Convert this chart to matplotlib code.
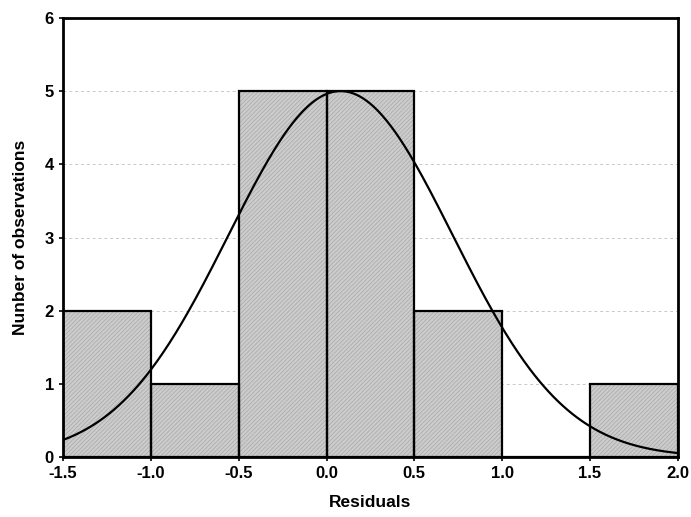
import numpy as np
import matplotlib
matplotlib.use("Agg")
import matplotlib.pyplot as plt

plt.rcParams['font.family'] = ['Liberation Sans', 'DejaVu Sans']
plt.rcParams['hatch.linewidth'] = 0.5

bin_edges = [-1.5, -1.0, -0.5, 0.0, 0.5, 1.0, 1.5, 2.0]
counts = [2, 1, 5, 5, 2, 0, 1]
fit_mean = 0.08
fit_sd = 0.638
x_ticks = [-1.5, -1.0, -0.5, 0.0, 0.5, 1.0, 1.5, 2.0]
y_ticks = [0, 1, 2, 3, 4, 5, 6]

fig = plt.figure(figsize=(6.91, 5.17), dpi=100)
ax = fig.add_axes([0.0912, 0.116, 0.8898, 0.849])

lefts = np.array(bin_edges[:-1])
widths = np.diff(bin_edges)
ax.set_axisbelow(True)
ax.yaxis.grid(True, color='#c8c8c8', linestyle=(0, (3, 3)), linewidth=0.7)

# fill with hatch
ax.bar(lefts, counts, width=widths, align='edge', color='#cccccc',
       edgecolor='#a8a8a8', hatch='////////', linewidth=0, zorder=2)
# outlines
ax.bar(lefts, counts, width=widths, align='edge', fill=False,
       edgecolor='black', linewidth=1.6, zorder=3)

n = sum(counts)
bw = widths[0]
xs = np.linspace(bin_edges[0], bin_edges[-1], 400)
ys = n * bw / (fit_sd * np.sqrt(2 * np.pi)) * np.exp(-0.5 * ((xs - fit_mean) / fit_sd) ** 2)
ax.plot(xs, ys, color='black', linewidth=1.6, zorder=4)

ax.set_xlim(bin_edges[0], bin_edges[-1])
ax.set_ylim(0, 6)
ax.set_xticks(x_ticks)
ax.set_xticklabels([f"{v:.1f}" for v in x_ticks])
ax.set_yticks(y_ticks)
ax.tick_params(axis='both', direction='out', length=3, width=1.2, labelsize=12)
for lab in ax.get_xticklabels() + ax.get_yticklabels():
    lab.set_fontweight('bold')
for s in ax.spines.values():
    s.set_linewidth(2)
ax.set_xlabel('Residuals', fontsize=12.5, fontweight='bold', labelpad=10)
ax.set_ylabel('Nunber of observations', fontsize=12.5, fontweight='bold', labelpad=12)

fig.savefig('out.png', dpi=100)
